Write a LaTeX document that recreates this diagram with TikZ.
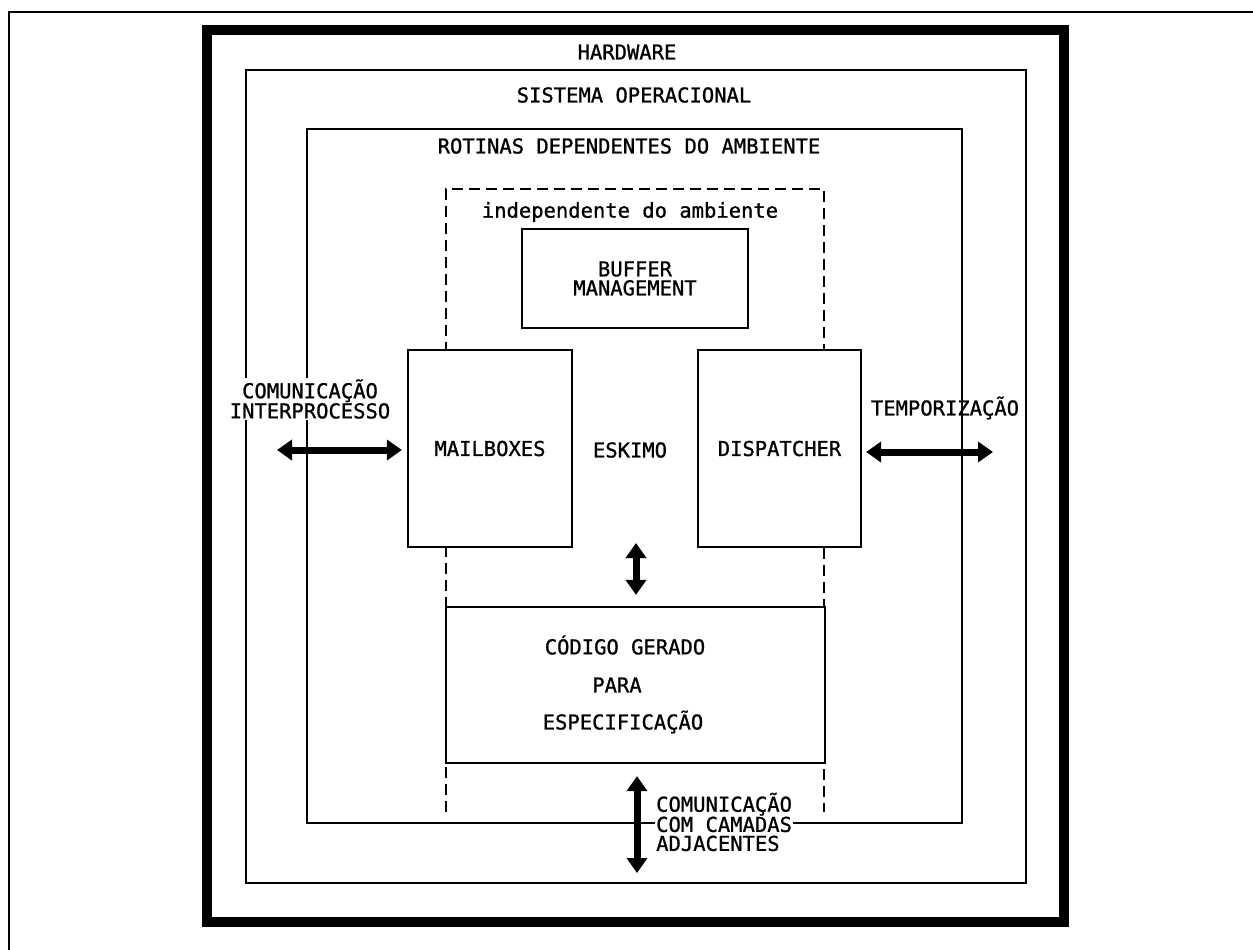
\documentclass[tikz,border=0pt]{standalone}
\usepackage{fontspec}
\setmonofont[FakeBold=1]{DejaVu Sans Mono}
\usetikzlibrary{arrows.meta}
\begin{document}
\begin{tikzpicture}[x=1pt,y=-1pt,
  lbl/.style={font=\ttfamily\fontsize{20.5}{19}\selectfont, inner sep=1pt},
  ln/.style={line width=2.2pt},
  blk/.style={lbl, draw, line width=2.2pt, fill=white, inner sep=0pt},
  dbl/.style={line width=7pt,
    {Triangle[length=15pt,width=20pt]}-{Triangle[length=15pt,width=20pt]}},
  ]
\useasboundingbox (0,0) rectangle (1253,950);
\fill[white] (0,0) rectangle (1253,950);

% page frame
\draw[line width=2.5pt] (1253,12) -- (9,12) -- (9,950);

% nested layers
\draw[line width=10pt] (207,30) rectangle (1064,922);
\draw[ln] (246,70) rectangle (1026,883);
\draw[ln] (307,129) rectangle (962,823);
\draw[ln, dash pattern=on 11pt off 6pt] (446,812) -- (446,189) -- (824,189) -- (824,812);

% layer titles
\node[lbl] (hw) at (627,52) {HARDWARE};
\node[lbl] (so) at (634,95) {SISTEMA OPERACIONAL};
\node[lbl] (rot) at (629,146) {ROTINAS DEPENDENTES DO AMBIENTE};
\node[lbl] (ind) at (630,212) {independente do ambiente};

% modules
\node[blk, minimum width=226pt, minimum height=99pt, align=center] (buf) at (635,278.5) {BUFFER\\MANAGEMENT};
\node[blk, minimum width=164pt, minimum height=197pt] (mb) at (490,448.5) {MAILBOXES};
\node[blk, minimum width=163pt, minimum height=197pt] (dp) at (779.5,448.5) {DISPATCHER};
\node[lbl] (esk) at (630,450) {ESKIMO};
\node[blk, minimum width=379pt, minimum height=156pt] (code) at (635.5,685) {};
\node[lbl] (c1) at (625,645) {CÓDIGO GERADO};
\node[lbl] (c2) at (617,685) {PARA};
\node[lbl] (c3) at (623,722) {ESPECIFICAÇÃO};

% external interfaces
\node[lbl, align=center, fill=white] (ipcl) at (310,399) {COMUNICAÇÃO\\INTERPROCESSO};
\node[lbl] (tl) at (945,408) {TEMPORIZAÇÃO};
\node[lbl, align=left, fill=white, anchor=west] (adjl) at (655,822) {COMUNICAÇÃO\\COM CAMADAS\\ADJACENTES};

\coordinate (ipc) at (277,450);
\coordinate (tmp) at (993,452);
\coordinate (esktop) at (636,543);
\coordinate (adj) at (637,873);

\draw[dbl, shorten >=5pt] (ipc) -- (ipc -| mb.west);
\draw[dbl, shorten <=4pt] (dp.east |- tmp) -- (tmp);
\draw[dbl, shorten >=11pt] (esktop) -- (esktop |- code.north);
\draw[dbl, shorten <=12pt] (adj |- code.south) -- (adj);
\end{tikzpicture}
\end{document}
